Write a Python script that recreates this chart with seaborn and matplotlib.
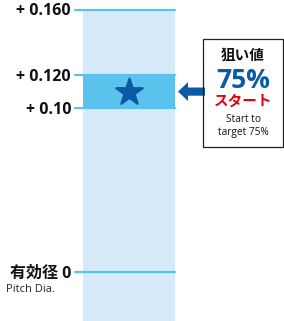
import numpy as np
import pandas as pd
import matplotlib.pyplot as plt
from matplotlib.patches import Rectangle, FancyArrow
import seaborn as sns

# tolerance levels (mm) and their labels
tick_values = [0.160, 0.120, 0.10, 0.0]
tick_labels = ['+ 0.160', '+ 0.120', '+ 0.10', '有効径 0']
band_low, band_high = 0.10, 0.120
target_value = 0.11

sns.set_theme(style='white')
fonts = ['Open Sans', 'Noto Sans CJK JP', 'DejaVu Sans']
plt.rcParams['font.family'] = fonts

fig = plt.figure(figsize=(2.84, 3.21), dpi=100)
ax = fig.add_axes([0, 0, 1, 1])
ax.set_xlim(0, 284)
ax.set_ylim(-49 / 1640, 272 / 1640)
ax.axis('off')

light = '#d5ebfa'
mid = '#5bc2ee'
dark = '#0b5aa6'
red = '#e60012'

# light column and target band
ax.add_patch(Rectangle((83, -0.05), 92, 0.05 + 0.160, color=light, lw=0, zorder=1))
ax.add_patch(Rectangle((83, band_low), 92, band_high - band_low, color=mid, lw=0, zorder=2))

# tick lines
lines = pd.DataFrame({'value': tick_values, 'label': tick_labels})
for v in lines['value']:
    sns.lineplot(x=[75, 175], y=[v, v], color=mid, lw=1.6, ax=ax, zorder=3)

for v, lab in zip(lines['value'], lines['label']):
    ax.text(71, v - 0.0010, lab, ha='right', va='center', fontsize=11.5,
            fontweight='bold', color='#111111')
ax.text(6, -0.0105, 'Pitch Dia.', ha='left', va='center', fontsize=8, color='#222222')

# target star
sns.scatterplot(x=[129], y=[target_value], marker='*', s=400, color=dark,
                edgecolor=dark, ax=ax, zorder=4, legend=False)

# arrow
ax.add_patch(FancyArrow(205, target_value, -27, 0, width=0.0050, head_width=0.0115,
                        head_length=10, length_includes_head=True, color=dark, lw=0, zorder=5))

# callout box
ax.add_patch(Rectangle((203, (272 - 147) / 1640), 80, 108 / 1640, fill=False,
                       edgecolor='#222222', lw=0.9, zorder=5))
cx = 243
ax.text(cx, (272 - 56) / 1640, '狙い値', ha='center', va='center', fontsize=10.5,
        fontweight='bold', color='#111111')
ax.text(cx, (272 - 80) / 1640, '75%', ha='center', va='center', fontsize=19,
        fontweight='bold', color=dark)
ax.text(cx, (272 - 102) / 1640, 'スタート', ha='center', va='center', fontsize=10.5,
        fontweight='bold', color=red)
ax.text(cx, (272 - 126) / 1640, 'Start to\ntarget 75%', ha='center', va='center',
        fontsize=7.3, color='#111111', linespacing=1.15)

plt.savefig('out.png', dpi=100)
